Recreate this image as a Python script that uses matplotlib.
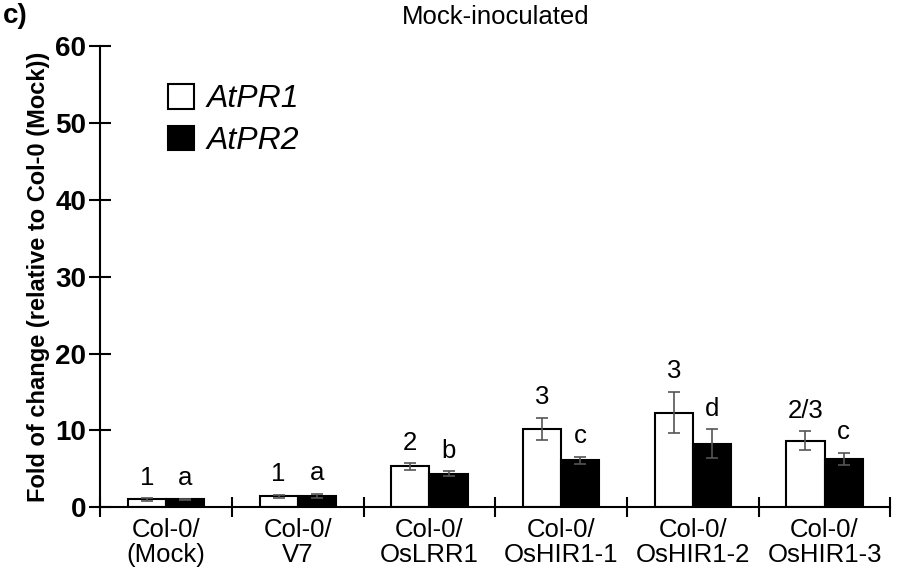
import numpy as np
import matplotlib
matplotlib.use("Agg")
import matplotlib.pyplot as plt

plt.rcParams['font.family'] = ['Liberation Sans', 'DejaVu Sans']

groups = ["Col-0/\n(Mock)", "Col-0/\nV7", "Col-0/\nOsLRR1",
          "Col-0/\nOsHIR1-1", "Col-0/\nOsHIR1-2", "Col-0/\nOsHIR1-3"]
pr1 = [1.0, 1.4, 5.3, 10.2, 12.3, 8.65]
pr1_err = [0.15, 0.25, 0.4, 1.45, 2.7, 1.2]
pr2 = [1.0, 1.5, 4.35, 6.1, 8.25, 6.3]
pr2_err = [0.1, 0.25, 0.35, 0.45, 1.9, 0.8]
pr1_sig = ["1", "1", "2", "3", "3", "2/3"]
pr2_sig = ["a", "a", "b", "c", "d", "c"]

fig = plt.figure(figsize=(9.03, 5.77), dpi=100)
ax = fig.add_axes([0.111, 0.121, 0.875, 0.799])

x = np.arange(len(groups))
w = 0.29
ekw = dict(ecolor='#555555', elinewidth=1.2, capsize=4, capthick=1.2)
b1 = ax.bar(x - w / 2, pr1, w, color='white', edgecolor='black', linewidth=1.5,
            yerr=pr1_err, error_kw=ekw, label='AtPR1')
b2 = ax.bar(x + w / 2, pr2, w, color='black', edgecolor='black', linewidth=1.5,
            yerr=pr2_err, error_kw=ekw, label='AtPR2')

for i in range(len(groups)):
    ax.text(x[i] - w / 2, pr1[i] + pr1_err[i] + 1.1, pr1_sig[i], ha='center',
            va='bottom', fontsize=18.5)
    ax.text(x[i] + w / 2, pr2[i] + pr2_err[i] + 1.1, pr2_sig[i], ha='center',
            va='bottom', fontsize=18.5)

ax.set_xlim(-0.5, len(groups) - 0.5)
ax.set_ylim(0, 60)
ax.set_yticks(np.arange(0, 61, 10))
ax.set_yticklabels([str(v) for v in range(0, 61, 10)], fontsize=20, fontweight='bold')
ax.set_xticks(x)
ax.set_xticklabels(groups, fontsize=18.5, linespacing=1.05)
ax.tick_params(axis='x', length=0, pad=8)
ax.set_xticks(np.arange(-0.5, len(groups)), minor=True)
ax.tick_params(axis='x', which='minor', direction='inout', length=14, width=1.5)
ax.tick_params(axis='y', direction='inout', length=16, width=1.5, pad=2)
for s in ['top', 'right']:
    ax.spines[s].set_visible(False)
for s in ['left', 'bottom']:
    ax.spines[s].set_linewidth(1.5)

ax.set_ylabel("Fold of change (relative to Col-0 (Mock))", fontsize=17,
              fontweight='bold', labelpad=4)
ax.set_title("Mock-inoculated", fontsize=18.5, pad=16)

ax.legend(loc='upper left', bbox_to_anchor=(0.05, 0.98), frameon=False,
          prop={'size': 23, 'style': 'italic'}, handlelength=0.8, handleheight=0.8,
          handletextpad=0.4, labelspacing=0.35)

fig.text(0.003, 0.972, "c)", fontsize=20, fontweight='bold', va='center')

fig.savefig("out.png", dpi=100)
